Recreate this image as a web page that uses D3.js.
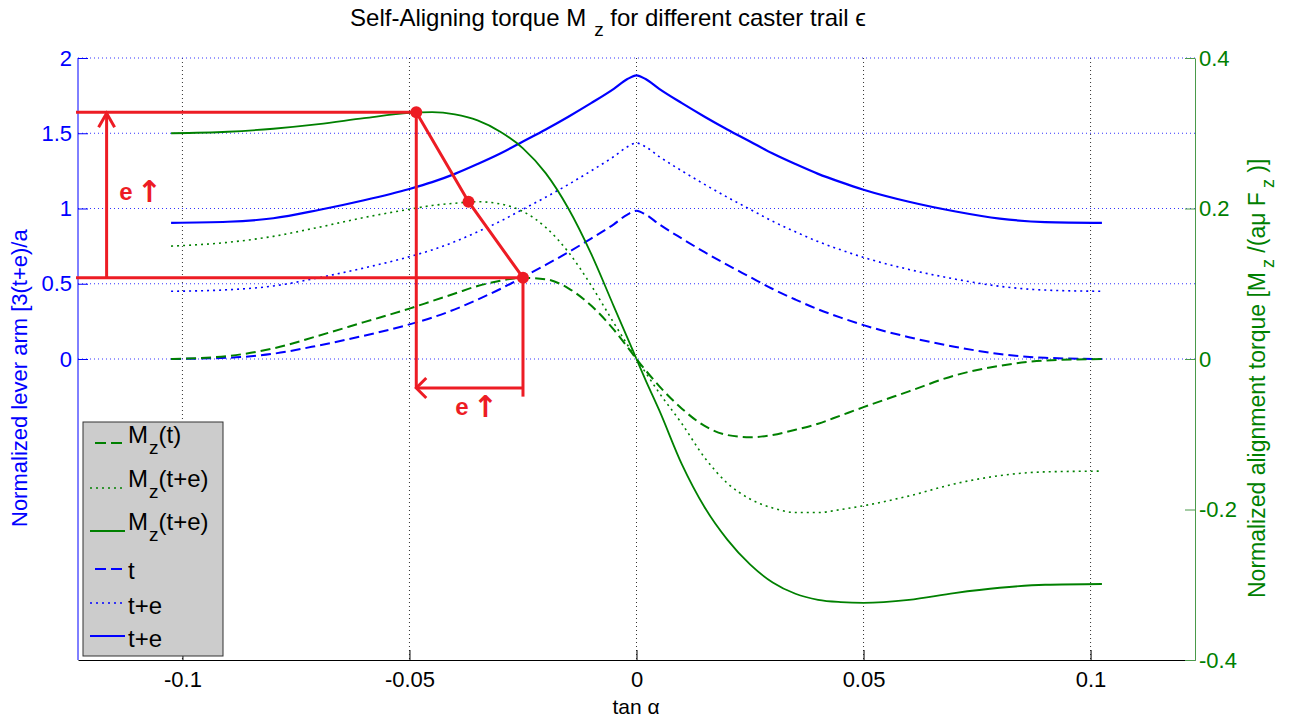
<!DOCTYPE html>
<html>
<head>
<meta charset="utf-8">
<script src="https://cdn.jsdelivr.net/npm/d3@7"></script>
<style>
  body { margin: 0; background: #fff; }
  svg { font-family: "Liberation Sans", Arial, sans-serif; }
</style>
</head>
<body>
<script>
// tan(alpha) sample points
const tanAlpha = [-0.1025, -0.09, -0.08, -0.07, -0.06, -0.05, -0.045, -0.04, -0.035, -0.03, -0.025, -0.02, -0.015, -0.01, -0.005, -0.002, 0,
  0.002, 0.005, 0.01, 0.015, 0.02, 0.025, 0.03, 0.035, 0.04, 0.045, 0.05, 0.06, 0.07, 0.08, 0.09, 0.1025];

// normalized lever arm (left axis)
const leverT = [0.0, 0.008, 0.035, 0.09, 0.155, 0.23, 0.275, 0.33, 0.395, 0.465, 0.545, 0.625, 0.71, 0.80, 0.895, 0.96, 0.985,
  0.96, 0.895, 0.80, 0.71, 0.625, 0.545, 0.465, 0.395, 0.33, 0.275, 0.225, 0.145, 0.082, 0.033, 0.008, 0.0];
const leverTE1 = [0.45, 0.46, 0.485, 0.54, 0.605, 0.68, 0.725, 0.78, 0.845, 0.915, 0.995, 1.075, 1.16, 1.25, 1.345, 1.41, 1.435,
  1.41, 1.345, 1.25, 1.16, 1.075, 0.995, 0.915, 0.845, 0.78, 0.725, 0.675, 0.595, 0.532, 0.483, 0.458, 0.45];
const leverTE2 = [0.905, 0.912, 0.935, 0.99, 1.055, 1.13, 1.175, 1.23, 1.295, 1.365, 1.445, 1.525, 1.61, 1.70, 1.795, 1.86, 1.885,
  1.86, 1.795, 1.70, 1.61, 1.525, 1.445, 1.365, 1.295, 1.23, 1.175, 1.125, 1.045, 0.982, 0.933, 0.91, 0.905];

// normalized aligning torque (right axis)
const mzT = [0.0, 0.004, 0.014, 0.031, 0.049, 0.067, 0.077, 0.087, 0.097, 0.104, 0.108, 0.106, 0.094, 0.071, 0.039, 0.016, 0,
  -0.015, -0.036, -0.066, -0.089, -0.101, -0.104, -0.101, -0.094, -0.086, -0.075, -0.064, -0.043, -0.022, -0.009, -0.002, 0.0];
const mzTE1 = [0.150, 0.155, 0.163, 0.175, 0.188, 0.199, 0.204, 0.207, 0.209, 0.206, 0.196, 0.175, 0.142, 0.098, 0.048, 0.019, 0,
  -0.018, -0.045, -0.086, -0.131, -0.165, -0.186, -0.198, -0.204, -0.204, -0.200, -0.195, -0.182, -0.166, -0.155, -0.150, -0.149];
const mzTE2 = [0.300, 0.302, 0.306, 0.312, 0.320, 0.327, 0.328, 0.325, 0.317, 0.302, 0.280, 0.247, 0.200, 0.140, 0.070, 0.028, 0,
  -0.028, -0.068, -0.140, -0.197, -0.240, -0.273, -0.297, -0.312, -0.320, -0.323, -0.324, -0.320, -0.311, -0.304, -0.300, -0.299];

const xTicks = [-0.1, -0.05, 0, 0.05, 0.1];
const leftTicks = [0, 0.5, 1, 1.5, 2];
const rightTicks = [-0.4, -0.2, 0, 0.2, 0.4];

const legendNames = ["M_z(t)", "M_z(t+e)", "M_z(t+e)", "t", "t+e", "t+e"];

// annotation points: peak of M_z(t+e), peak of dotted M_z, peak of M_z(t)
const annoTan = [-0.0485, -0.037, -0.025];
const annoMz = [0.328, 0.209, 0.108];

const W = 1289, H = 722;
const pL = 78, pR = 1195, pT = 58, pB = 660;
const green = "#008000", blue = "#0000ff", red = "#ed1c24";

const svg = d3.select("body").append("svg").attr("width", W).attr("height", H);

const x = d3.scaleLinear().domain([-0.123, 0.123]).range([pL, pR]);
const yL = d3.scaleLinear().domain([-2, 2]).range([pB, pT]);
const yR = d3.scaleLinear().domain([-0.4, 0.4]).range([pB, pT]);

// grid
svg.append("g").selectAll("line").data(xTicks).enter().append("line")
  .attr("x1", d => x(d)).attr("x2", d => x(d))
  .attr("y1", pT).attr("y2", pB)
  .attr("stroke", "#333").attr("stroke-width", 1).attr("stroke-dasharray", "1,3");
svg.append("g").selectAll("line").data(leftTicks).enter().append("line")
  .attr("x1", pL).attr("x2", pR)
  .attr("y1", d => yL(d)).attr("y2", d => yL(d))
  .attr("stroke", "#3333ff").attr("stroke-width", 1).attr("stroke-dasharray", "1,3");

// axes
const fs = 22;
const gx = svg.append("g").attr("transform", `translate(0,${pB})`)
  .call(d3.axisBottom(x).tickValues(xTicks).tickSize(-10).tickSizeOuter(0).tickPadding(11).tickFormat(d => d === 0 ? "0" : String(d)));
gx.selectAll("text").attr("font-size", fs).attr("fill", "#000").attr("font-family", "Liberation Sans, Arial");
gx.selectAll("line,path").attr("stroke", "#000");

const gl = svg.append("g").attr("transform", `translate(${pL},0)`)
  .call(d3.axisLeft(yL).tickValues(leftTicks).tickSize(-10).tickSizeOuter(0).tickPadding(6).tickFormat(d => String(d)));
gl.select("path").attr("d", `M0,${pT}V${pB}`);
gl.selectAll("text").attr("font-size", fs).attr("fill", blue).attr("font-family", "Liberation Sans, Arial");
gl.selectAll("line,path").attr("stroke", blue);

const gr = svg.append("g").attr("transform", `translate(${pR},0)`)
  .call(d3.axisRight(yR).tickValues(rightTicks).tickSize(-10).tickSizeOuter(0).tickPadding(4).tickFormat(d => String(d)));
gr.selectAll("text").attr("font-size", fs).attr("fill", green).attr("font-family", "Liberation Sans, Arial");
gr.selectAll("line,path").attr("stroke", "#4a9a4a");

// curves
const series = [
  { v: leverT, y: yL, color: blue, dash: "10,5", w: 2 },
  { v: leverTE1, y: yL, color: blue, dash: "2,4", w: 1.6 },
  { v: leverTE2, y: yL, color: blue, dash: null, w: 2.2 },
  { v: mzT, y: yR, color: green, dash: "10,5", w: 2 },
  { v: mzTE1, y: yR, color: green, dash: "2,4", w: 1.6 },
  { v: mzTE2, y: yR, color: green, dash: null, w: 1.8 }
];
series.forEach(s => {
  const line = d3.line().curve(d3.curveMonotoneX)
    .x((d, i) => x(tanAlpha[i])).y(d => s.y(d));
  svg.append("path").datum(s.v)
    .attr("d", line).attr("fill", "none")
    .attr("stroke", s.color).attr("stroke-width", s.w)
    .attr("stroke-dasharray", s.dash);
});

// red annotation
const ann = svg.append("g").attr("stroke", red).attr("stroke-width", 3).attr("fill", "none");
const pts = annoTan.map((t, i) => [x(t), yR(annoMz[i])]);
const arrowX = x(-0.1167), arrowY = yR(-0.0385), dropEnd = yR(-0.05);
ann.append("line").attr("x1", pL - 2).attr("x2", pts[0][0]).attr("y1", pts[0][1]).attr("y2", pts[0][1]);
ann.append("line").attr("x1", pL - 2).attr("x2", pts[2][0]).attr("y1", pts[2][1]).attr("y2", pts[2][1]);
ann.append("line").attr("x1", arrowX).attr("x2", arrowX).attr("y1", pts[2][1]).attr("y2", pts[0][1] + 1);
ann.append("path").attr("d", `M${arrowX - 8},${pts[0][1] + 15}L${arrowX},${pts[0][1] + 1}L${arrowX + 8},${pts[0][1] + 15}`);
ann.append("line").attr("x1", pts[0][0]).attr("x2", pts[0][0]).attr("y1", pts[0][1]).attr("y2", arrowY);
ann.append("line").attr("x1", pts[2][0]).attr("x2", pts[2][0]).attr("y1", pts[2][1]).attr("y2", dropEnd);
ann.append("line").attr("x1", pts[2][0]).attr("x2", pts[0][0]).attr("y1", arrowY).attr("y2", arrowY);
ann.append("path").attr("d", `M${pts[0][0] + 10},${arrowY - 10}L${pts[0][0]},${arrowY}L${pts[0][0] + 10},${arrowY + 10}`);
ann.append("path").attr("d", d3.line()(pts));
svg.append("g").selectAll("circle").data(pts).enter().append("circle")
  .attr("cx", d => d[0]).attr("cy", d => d[1]).attr("r", 6).attr("fill", red);

function eArrow(tx, ty) {
  const t = svg.append("text").attr("x", tx).attr("y", ty)
    .attr("font-size", 24).attr("font-weight", "bold").attr("fill", red);
  t.append("tspan").text("e");
  t.append("tspan").attr("dx", 4).attr("dy", 2).attr("font-family", "DejaVu Sans").attr("font-size", 30).text("\u2191");
}
eArrow(x(-0.1139), yR(0.211));
eArrow(x(-0.0399), yR(-0.0744));

// legend
const lg = svg.append("g");
lg.append("rect").attr("x", 83).attr("y", 422).attr("width", 140).attr("height", 234)
  .attr("fill", "#cccccc").attr("stroke", "#333").attr("stroke-width", 1);
const legLineY = [443, 488, 531, 569, 603, 636];
const legTextY = [443, 487, 530, 579, 614, 647];
legendNames.forEach((name, i) => {
  const s = series[(i + 3) % 6];
  const dashed = s.dash === "10,5";
  lg.append("line")
    .attr("x1", dashed ? 95 : 90).attr("x2", dashed ? 122 : 125)
    .attr("y1", legLineY[i]).attr("y2", legLineY[i])
    .attr("stroke", s.color).attr("stroke-width", s.w)
    .attr("stroke-dasharray", dashed ? "11,5" : s.dash);
  const t = lg.append("text").attr("x", 128).attr("y", legTextY[i]).attr("font-size", 24).attr("fill", "#000");
  const parts = name.split("_");
  if (parts.length === 1) {
    t.text(name);
  } else {
    t.append("tspan").text(parts[0]);
    t.append("tspan").attr("font-size", 19).attr("dx", 1).attr("dy", 11).text(parts[1][0]);
    t.append("tspan").attr("dy", -11).text(parts[1].slice(1));
  }
});

// title
const title = svg.append("text").attr("x", 608).attr("y", 26).attr("text-anchor", "middle")
  .attr("font-size", 24).attr("fill", "#000");
title.append("tspan").text("Self-Aligning torque M");
title.append("tspan").attr("dx", 8).attr("dy", 10).attr("font-size", 19).text("z");
title.append("tspan").attr("dy", -10).text(" for different caster trail \u03f5");

// axis labels
svg.append("text").attr("x", 636).attr("y", 714).attr("text-anchor", "middle")
  .attr("font-size", 21).attr("fill", "#000").text("tan \u03b1");

svg.append("text").attr("transform", "translate(27,527) rotate(-90)")
  .attr("font-size", 22).attr("fill", blue).text("Normalized lever arm [3(t+e)/a");

const rl = svg.append("text").attr("transform", "translate(1265,598) rotate(-90)")
  .attr("font-size", 23).attr("fill", green);
rl.append("tspan").text("Normalized alignment torque [M");
rl.append("tspan").attr("dx", 4).attr("dy", 9).attr("font-size", 18).text("z");
rl.append("tspan").attr("dy", -9).text(" /(a\u03bc F");
rl.append("tspan").attr("dx", 4).attr("dy", 9).attr("font-size", 18).text("z");
rl.append("tspan").attr("dy", -9).text(" )]");
</script>
</body>
</html>
